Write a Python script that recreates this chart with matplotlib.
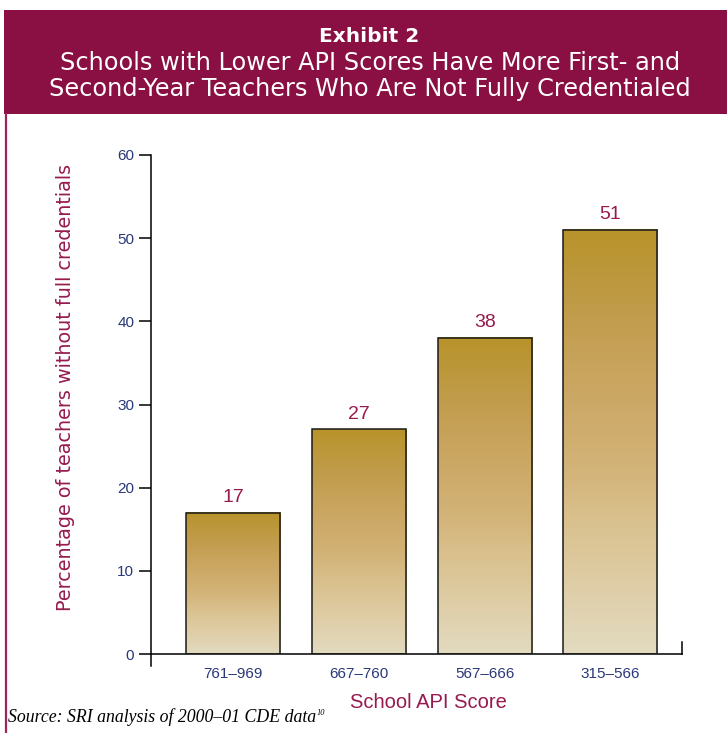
import matplotlib

matplotlib.use("Agg")

import numpy as np
import matplotlib.pyplot as plt
from matplotlib.colors import LinearSegmentedColormap
from matplotlib.patches import Rectangle

score_bands = ["761\u2013969", "667\u2013760", "567\u2013666", "315\u2013566"]
pct_uncredentialed = [17, 27, 38, 51]
y_ticks = [0, 10, 20, 30, 40, 50, 60]

MAROON = "#8A0F42"
LABEL_RED = "#961A4E"
TICK_BLUE = "#2A3878"
WIDE = ["DejaVu Sans"]

plt.rcParams["font.family"] = ["Liberation Sans", "DejaVu Sans"]

W, H = 727, 733
fig = plt.figure(figsize=(W / 100, H / 100), dpi=100)
fig.patch.set_facecolor("white")

# header band and left rule
fig.patches.append(Rectangle((4 / W, 1 - 114 / H), 1, 104 / H, transform=fig.transFigure,
                             facecolor=MAROON, edgecolor="none", zorder=0))
fig.add_artist(plt.Line2D([5.5 / W, 5.5 / W], [0, 1 - 114 / H], transform=fig.transFigure,
                          color="#A0245A", lw=1.6))

fig.text(369 / W, 1 - 37 / H, "Exhibit 2", color="white", fontsize=14.5, fontweight="bold",
         family=WIDE, ha="center", va="center")
fig.text(370 / W, 1 - 63 / H, "Schools with Lower API Scores Have More First- and",
         color="white", fontsize=17.3, family=WIDE, ha="center", va="center")
fig.text(370 / W, 1 - 89 / H, "Second-Year Teachers Who Are Not Fully Credentialed",
         color="white", fontsize=17.3, family=WIDE, ha="center", va="center")

# plotting area
left, right = 151 / W, 682 / W
bottom, top = 1 - 654 / H, 1 - 155 / H
ax = fig.add_axes([left, bottom, right - left, top - bottom])
for s in ax.spines.values():
    s.set_visible(False)

x = np.arange(len(score_bands))
bars = ax.bar(x, pct_uncredentialed, width=0.75, facecolor="none", edgecolor="#1A1A1A",
              linewidth=1.1, zorder=3)

grad = LinearSegmentedColormap.from_list("gold", [
    (0.0, "#E2DBC0"), (0.15, "#DFCEA8"), (0.3, "#DAC290"), (0.45, "#D2B276"),
    (0.6, "#CCA866"), (0.8, "#C19C4C"), (1.0, "#B8932A")])
ramp = np.linspace(0, 1, 256).reshape(-1, 1)
for b in bars:
    x0, w, h = b.get_x(), b.get_width(), b.get_height()
    ax.imshow(ramp, cmap=grad, origin="lower", aspect="auto",
              extent=(x0, x0 + w, 0, h), zorder=2)
    ax.text(x0 + w / 2, h + 1.8, f"{h:g}", color=LABEL_RED, fontsize=14,
            ha="center", va="center")
ax.set_xlim(-0.655, 3.57)
ax.set_ylim(0, 60)

# axis lines: y axis runs a little below zero, x axis ends in a short upward tick
ax.plot([0, 0], [-12 / 499, 1], transform=ax.transAxes, color="black", lw=1.1, clip_on=False)
ax.plot([0, 1], [0, 0], transform=ax.transAxes, color="black", lw=1.1, clip_on=False)
ax.plot([1, 1], [0, 12.5 / 499], transform=ax.transAxes, color="black", lw=1.1, clip_on=False)

ax.set_yticks(y_ticks)
ax.tick_params(axis="y", direction="out", length=9, width=1.1, pad=3,
               labelsize=11, labelcolor=TICK_BLUE, color="black")
ax.set_xticks(x)
ax.set_xticklabels(score_bands)
ax.tick_params(axis="x", length=0, pad=9, labelsize=11, labelcolor=TICK_BLUE)

ax.set_ylabel("Percentage of teachers without full credentials", color=LABEL_RED,
              fontsize=13.8, family=WIDE)
ax.yaxis.set_label_coords(-76 / W / (right - left), (654 - 387) / 499)
ax.set_xlabel("School API Score", color=LABEL_RED, fontsize=14.5)
ax.xaxis.set_label_coords((428 / W - left) / (right - left), -(693 - 654) / 499)

src = fig.text(8 / W, 1 - 717 / H, "Source: SRI analysis of 2000\u201301 CDE data",
               family=["Liberation Serif"], style="italic", fontsize=12.8,
               ha="left", va="center")
fig.canvas.draw()
bb = src.get_window_extent()
fig.text((bb.x1 + 1) / W, 1 - 713 / H, "10", family=["Liberation Serif"], style="italic",
         fontsize=6, ha="left", va="center")

fig.savefig("out.png", dpi=100, facecolor="white")
